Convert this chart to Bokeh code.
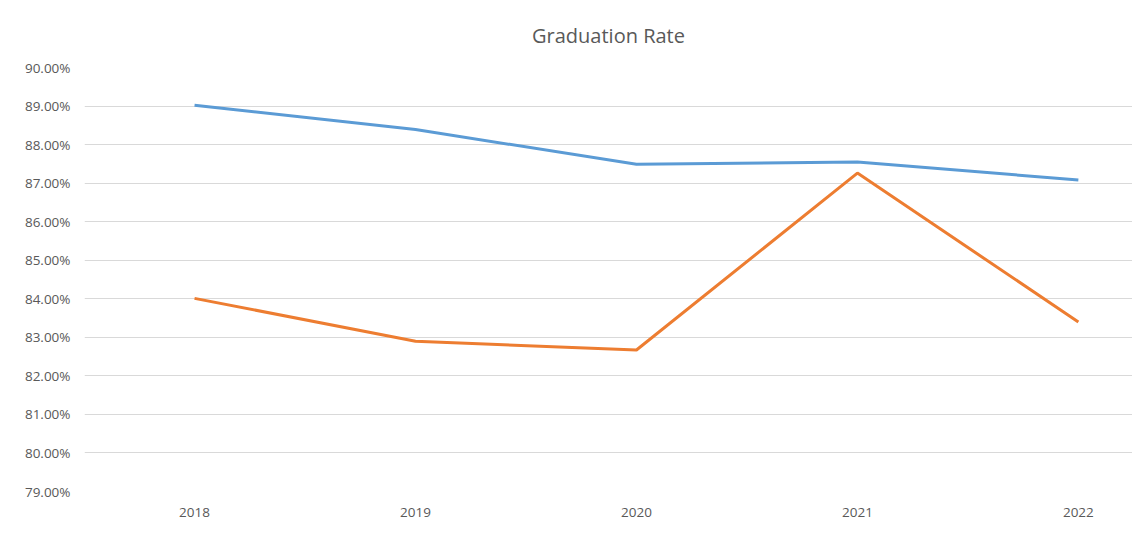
from bokeh.plotting import figure
from bokeh.models import Range1d, FixedTicker, PrintfTickFormatter
from bokeh.embed import file_html
from bokeh.resources import INLINE

years = [2018, 2019, 2020, 2021, 2022]
series_a = [89.02, 88.39, 87.49, 87.55, 87.08]
series_b = [84.01, 82.90, 82.67, 87.26, 83.40]
y_ticks = [79, 80, 81, 82, 83, 84, 85, 86, 87, 88, 89, 90]

p = figure(width=1132, height=543, output_backend="svg", toolbar_location=None,
           x_range=Range1d(2017.502, 2022.245), y_range=Range1d(79, 90),
           min_border_left=84, min_border_right=0, min_border_top=67, min_border_bottom=52)

p.title.text = "Graduation Rate"
p.title.align = "center"
p.title.text_font = "Open Sans"
p.title.text_font_size = "20px"
p.title.text_font_style = "normal"
p.title.text_color = "#595959"
p.title.text_line_height = 0.7
p.title.standoff = 38

p.outline_line_color = None
p.background_fill_color = "white"
p.border_fill_color = "white"

p.xaxis.ticker = FixedTicker(ticks=years)
p.yaxis.ticker = FixedTicker(ticks=y_ticks)
p.yaxis.formatter = PrintfTickFormatter(format="%.2f%%")
for ax in (p.xaxis[0], p.yaxis[0]):
    ax.axis_line_color = None
    ax.major_tick_line_color = None
    ax.minor_tick_line_color = None
    ax.major_label_text_font = "Open Sans"
    ax.major_label_text_font_size = "13.5px"
    ax.major_label_text_color = "#595959"
p.xaxis.major_label_standoff = 10
p.yaxis.major_label_standoff = 8

p.xgrid.grid_line_color = None
p.ygrid.grid_line_color = "#D9D9D9"
p.ygrid.grid_line_width = 1

p.line(years, series_a, line_color="#5B9BD5", line_width=3)
p.line(years, series_b, line_color="#ED7D31", line_width=3)

open("out.html", "w").write(file_html(p, INLINE))
